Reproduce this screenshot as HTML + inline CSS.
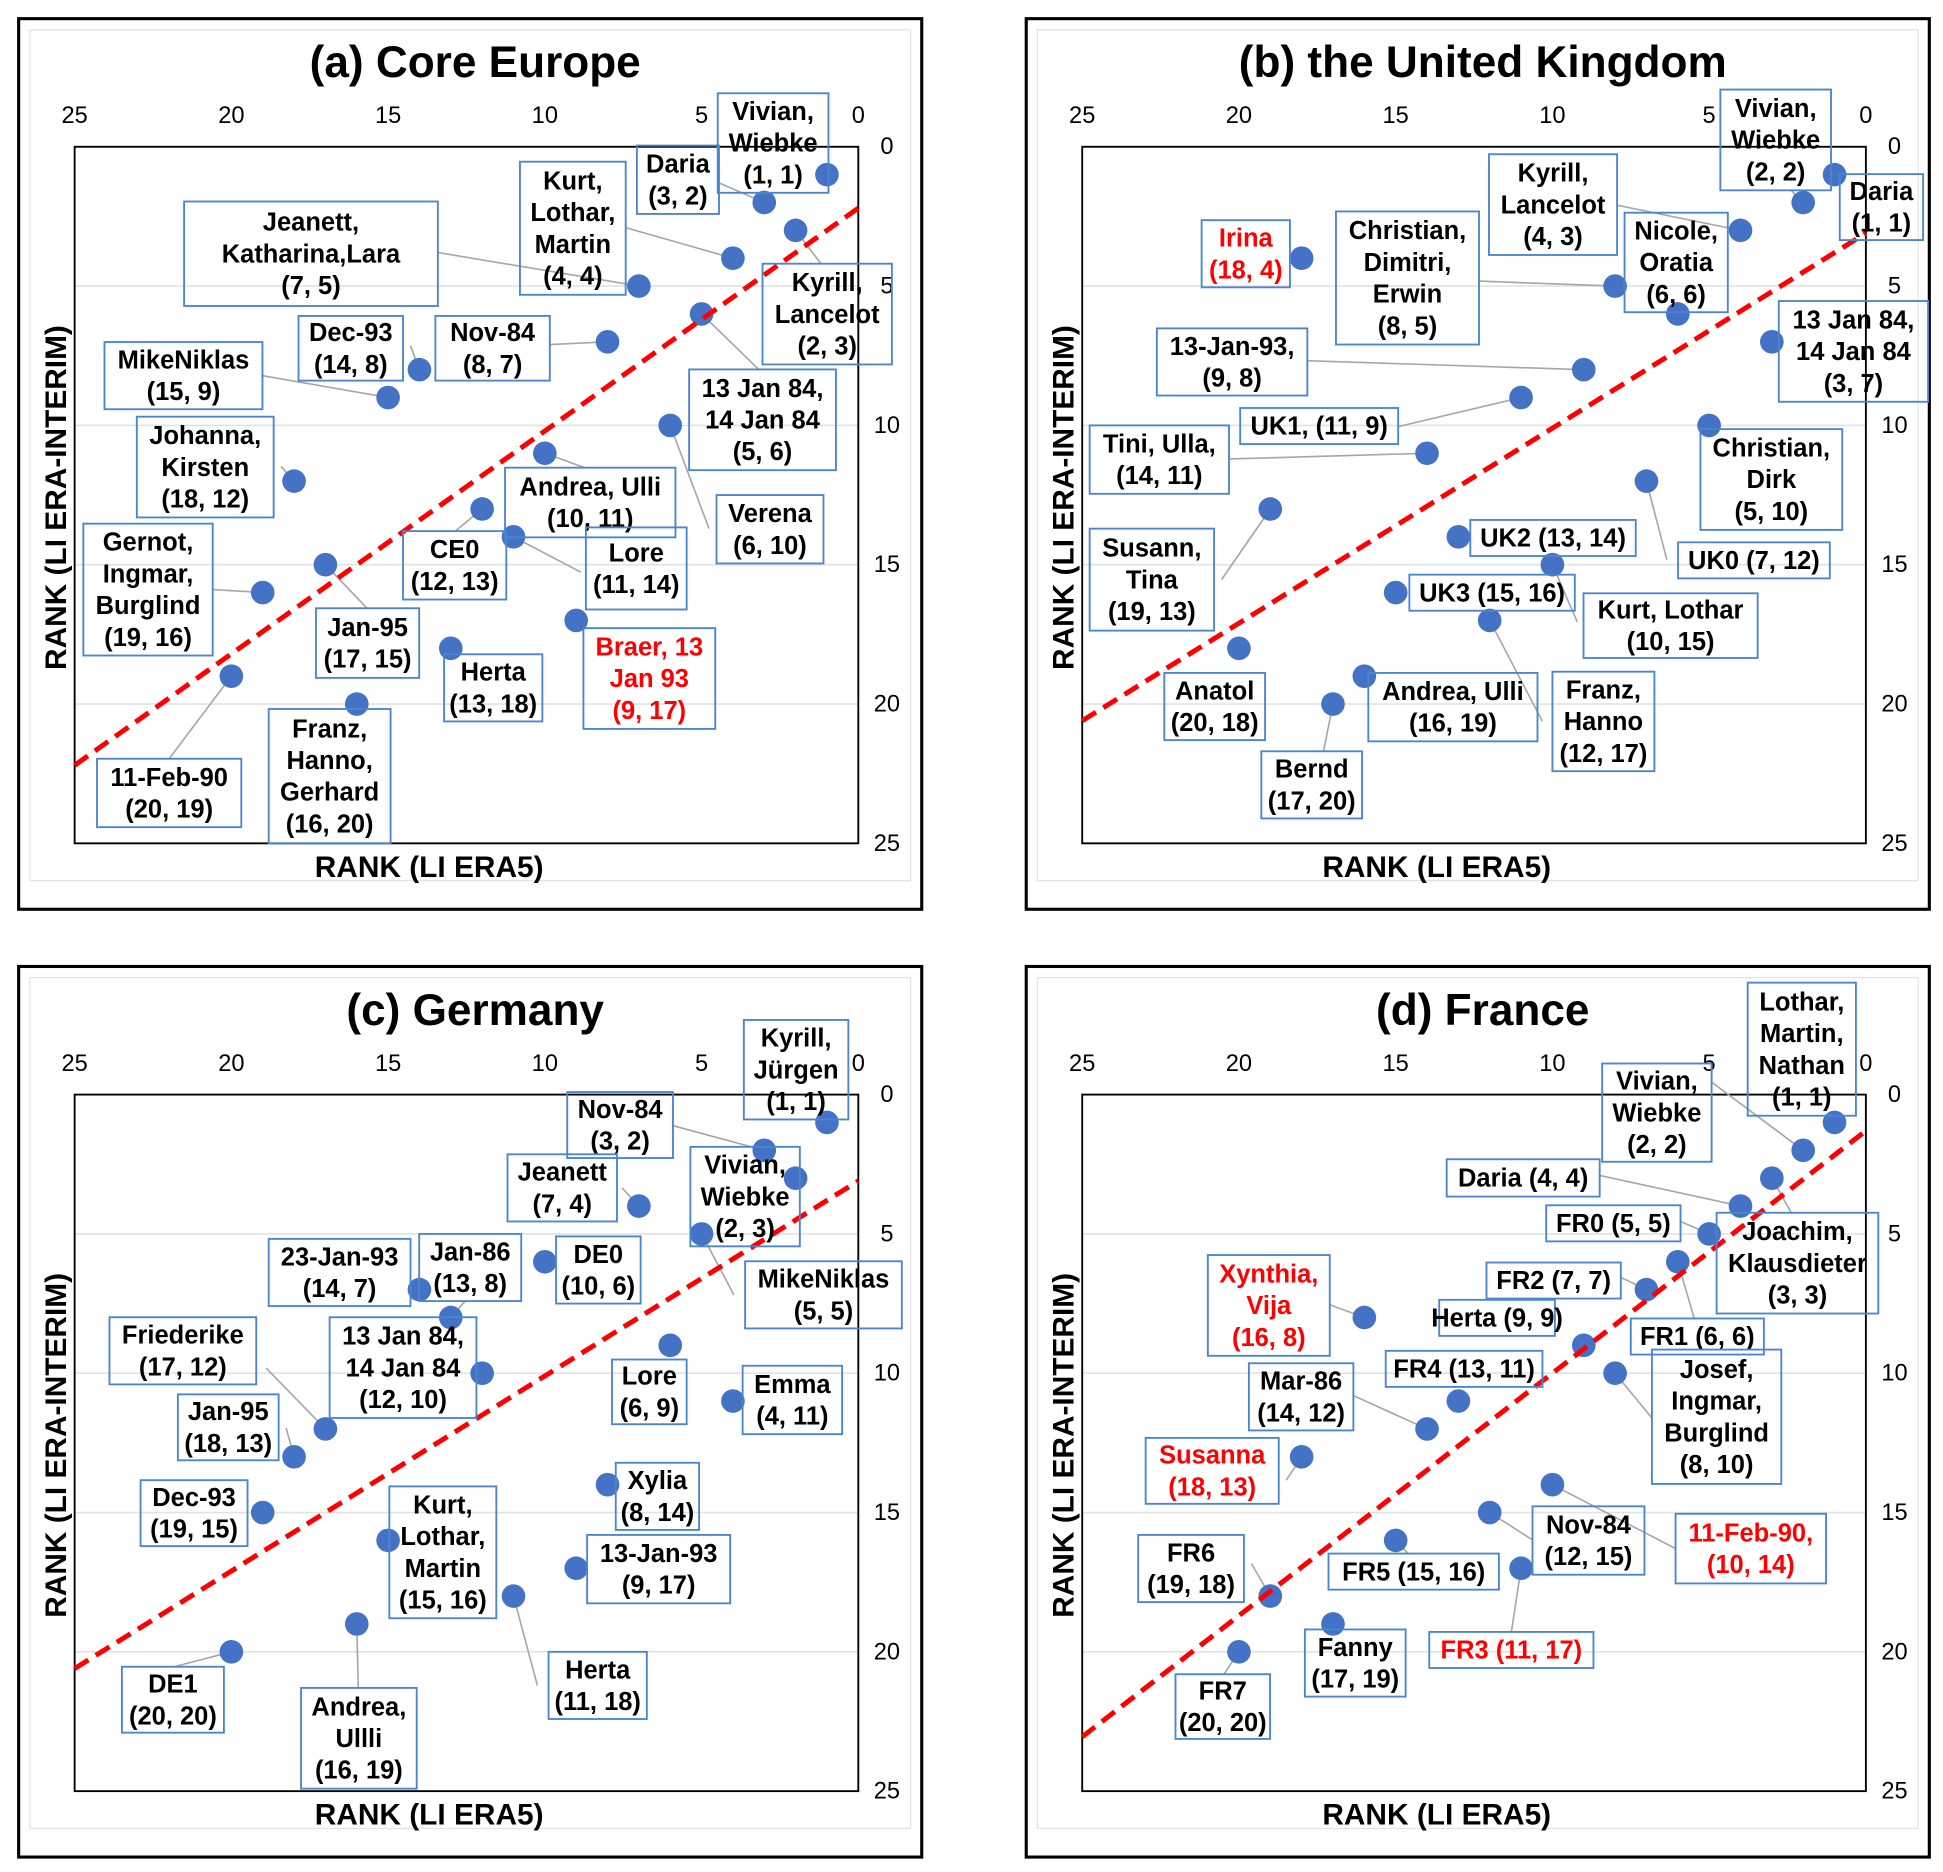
<!DOCTYPE html>
<html><head><meta charset="utf-8">
<style>
html,body{margin:0;padding:0;background:#fff;}
svg{display:block;}
text{font-family:"Liberation Sans",Arial,sans-serif;font-weight:bold;}
</style></head>
<body>
<svg id="fig" width="1943" height="1872" viewBox="0 0 1562 1505" preserveAspectRatio="none" xmlns="http://www.w3.org/2000/svg"></svg>
<script>
// ---- data (per panel): names, ERA5 rank, ERA-Interim rank ----
const aNames = ["Vivian, Wiebke","Daria","Kurt, Lothar, Martin","Jeanett, Katharina,Lara","Kyrill, Lancelot","13 Jan 84, 14 Jan 84","Dec-93","Nov-84","MikeNiklas","Johanna, Kirsten","Verena","Andrea, Ulli","CE0","Lore","Gernot, Ingmar, Burglind","Jan-95","Braer, 13 Jan 93","Herta","Franz, Hanno, Gerhard","11-Feb-90"];
const aEra5 =    [1,3,4,7,2,5,14,8,15,18,6,10,12,11,19,17,9,13,16,20];
const aInterim = [1,2,4,5,3,6,8,7,9,12,10,11,13,14,16,15,17,18,20,19];
const bNames = ["Vivian, Wiebke","Daria","Kyrill, Lancelot","Irina","Christian, Dimitri, Erwin","Nicole, Oratia","13 Jan 84, 14 Jan 84","13-Jan-93","UK1","Tini, Ulla","Christian, Dirk","Susann, Tina","UK2","UK0","UK3","Kurt, Lothar","Anatol","Franz, Hanno","Andrea, Ulli","Bernd"];
const bEra5 =    [2,1,4,18,8,6,3,9,11,14,5,19,13,7,15,10,20,12,16,17];
const bInterim = [2,1,3,4,5,6,7,8,9,11,10,13,14,12,16,15,18,17,19,20];
const cNames = ["Kyrill, Jürgen","Nov-84","Vivian, Wiebke","Jeanett","23-Jan-93","Jan-86","DE0","MikeNiklas","Friederike","13 Jan 84, 14 Jan 84","Lore","Emma","Jan-95","Dec-93","Xylia","Kurt, Lothar, Martin","13-Jan-93","Herta","DE1","Andrea, Ullli"];
const cEra5 =    [1,3,2,7,14,13,10,5,17,12,6,4,18,19,8,15,9,11,20,16];
const cInterim = [1,2,3,4,7,8,6,5,12,10,9,11,13,15,14,16,17,18,20,19];
const dNames = ["Lothar, Martin, Nathan","Vivian, Wiebke","Daria","Joachim, Klausdieter","FR0","FR2","FR1","Xynthia, Vija","Herta","FR4","Josef, Ingmar, Burglind","Mar-86","Susanna","Nov-84","11-Feb-90","FR6","FR5","FR3","Fanny","FR7"];
const dEra5 =    [1,2,4,3,5,7,6,16,9,13,8,14,18,12,10,19,15,11,17,20];
const dInterim = [1,2,4,3,5,7,6,8,9,11,10,12,13,15,14,18,16,17,19,20];
// fitted reference line: interim = intercept + slope*era5
const lineIntercept = [2.2, 3.1, 3.1, 1.3];
const lineSlope     = [0.8, 0.7, 0.7, 0.87];
const tickValues = [0,5,10,15,20,25];
const titles = ["(a) Core Europe","(b) the United Kingdom","(c) Germany","(d) France"];

// ---- layout (label boxes: x1,y1,x2,y2, text lines, red?, leader anchor) ----
const layoutA = [
 [577,75,666,155,["Vivian,","Wiebke","(1, 1)"],0,null],
 [512,117,578,172,["Daria","(3, 2)"],0,[578,147]],
 [418,130,503,237,["Kurt,","Lothar,","Martin","(4, 4)"],0,[503,183]],
 [148,162,352,246,["Jeanett,","Katharina,Lara","(7, 5)"],0,[352,203]],
 [613,212,717,293,["Kyrill,","Lancelot","(2, 3)"],0,[660,212]],
 [554,297,672,378,["13 Jan 84,","14 Jan 84","(5, 6)"],0,[610,297]],
 [240,254,324,306,["Dec-93","(14, 8)"],0,[330,278]],
 [350,254,442,306,["Nov-84","(8, 7)"],0,[442,277]],
 [84,275,211,329,["MikeNiklas","(15, 9)"],0,[211,302]],
 [110,335,220,416,["Johanna,","Kirsten","(18, 12)"],0,[226,375]],
 [576,398,662,453,["Verena","(6, 10)"],0,[570,425]],
 [406,376,543,432,["Andrea, Ulli","(10, 11)"],0,[470,376]],
 [324,427,407,482,["CE0","(12, 13)"],0,[366,427]],
 [471,424,552,490,["Lore","(11, 14)"],0,[467,460]],
 [67,421,171,527,["Gernot,","Ingmar,","Burglind","(19, 16)"],0,[171,474]],
 [254,489,337,545,["Jan-95","(17, 15)"],0,[295,489]],
 [469,505,575,586,["Braer, 13","Jan 93","(9, 17)"],1,null],
 [357,526,436,580,["Herta","(13, 18)"],0,null],
 [216,570,314,678,["Franz,","Hanno,","Gerhard","(16, 20)"],0,null],
 [78,610,194,665,["11-Feb-90","(20, 19)"],0,[136,610]]
];
const layoutB = [
 [1383,72,1472,153,["Vivian,","Wiebke","(2, 2)"],0,[1440,153]],
 [1479,140,1546,193,["Daria","(1, 1)"],0,null],
 [1197,124,1300,205,["Kyrill,","Lancelot","(4, 3)"],0,[1300,165]],
 [966,177,1037,231,["Irina","(18, 4)"],1,null],
 [1074,170,1189,277,["Christian,","Dimitri,","Erwin","(8, 5)"],0,[1189,226]],
 [1306,171,1389,251,["Nicole,","Oratia","(6, 6)"],0,null],
 [1430,242,1550,323,["13 Jan 84,","14 Jan 84","(3, 7)"],0,null],
 [930,264,1051,318,["13-Jan-93,","(9, 8)"],0,[1051,290]],
 [997,328,1124,357,["UK1, (11, 9)"],0,[1124,343]],
 [876,342,988,397,["Tini, Ulla,","(14, 11)"],0,[988,369]],
 [1367,345,1481,426,["Christian,","Dirk","(5, 10)"],0,null],
 [876,425,976,507,["Susann,","Tina","(19, 13)"],0,[982,466]],
 [1182,418,1315,447,["UK2 (13, 14)"],0,null],
 [1349,436,1471,465,["UK0 (7, 12)"],0,[1340,450]],
 [1133,462,1266,491,["UK3 (15, 16)"],0,null],
 [1273,477,1413,529,["Kurt, Lothar","(10, 15)"],0,[1268,500]],
 [936,541,1017,595,["Anatol","(20, 18)"],0,null],
 [1248,540,1330,620,["Franz,","Hanno","(12, 17)"],0,[1240,580]],
 [1100,541,1236,596,["Andrea, Ulli","(16, 19)"],0,null],
 [1014,604,1095,658,["Bernd","(17, 20)"],0,[1064,604]]
];
const layoutC = [
 [598,820,682,900,["Kyrill,","Jürgen","(1, 1)"],0,null],
 [456,878,541,931,["Nov-84","(3, 2)"],0,[541,905]],
 [555,922,643,1002,["Vivian,","Wiebke","(2, 3)"],0,null],
 [408,928,496,982,["Jeanett","(7, 4)"],0,[500,955]],
 [216,996,330,1050,["23-Jan-93","(14, 7)"],0,null],
 [337,992,419,1046,["Jan-86","(13, 8)"],0,[374,1046]],
 [447,994,515,1048,["DE0","(10, 6)"],0,null],
 [599,1014,725,1068,["MikeNiklas","(5, 5)"],0,[590,1041]],
 [88,1059,206,1113,["Friederike","(17, 12)"],0,[214,1100]],
 [265,1059,383,1140,["13 Jan 84,","14 Jan 84","(12, 10)"],0,null],
 [492,1093,552,1145,["Lore","(6, 9)"],0,null],
 [597,1098,677,1153,["Emma","(4, 11)"],0,null],
 [143,1121,224,1174,["Jan-95","(18, 13)"],0,[230,1148]],
 [113,1190,199,1243,["Dec-93","(19, 15)"],0,null],
 [495,1176,562,1230,["Xylia","(8, 14)"],0,null],
 [313,1195,399,1301,["Kurt,","Lothar,","Martin","(15, 16)"],0,null],
 [472,1234,587,1289,["13-Jan-93","(9, 17)"],0,null],
 [441,1328,520,1382,["Herta","(11, 18)"],0,[432,1355]],
 [98,1340,180,1393,["DE1","(20, 20)"],0,[140,1340]],
 [242,1357,335,1438,["Andrea,","Ullli","(16, 19)"],0,[288,1357]]
];
const layoutD = [
 [1405,790,1492,897,["Lothar,","Martin,","Nathan","(1, 1)"],0,null],
 [1288,855,1376,934,["Vivian,","Wiebke","(2, 2)"],0,[1376,870]],
 [1163,932,1286,962,["Daria (4, 4)"],0,[1286,945]],
 [1380,975,1510,1056,["Joachim,","Klausdieter","(3, 3)"],0,[1440,975]],
 [1243,969,1351,998,["FR0 (5, 5)"],0,[1351,982]],
 [1195,1015,1303,1044,["FR2 (7, 7)"],0,[1303,1027]],
 [1311,1060,1418,1089,["FR1 (6, 6)"],0,[1362,1060]],
 [971,1009,1069,1090,["Xynthia,","Vija","(16, 8)"],1,[1069,1049]],
 [1157,1045,1250,1074,["Herta (9, 9)"],0,null],
 [1114,1086,1240,1115,["FR4 (13, 11)"],0,null],
 [1328,1085,1432,1193,["Josef,","Ingmar,","Burglind","(8, 10)"],0,[1328,1140]],
 [1004,1096,1088,1150,["Mar-86","(14, 12)"],0,[1088,1122]],
 [921,1156,1028,1209,["Susanna","(18, 13)"],1,[1034,1190]],
 [1232,1211,1322,1266,["Nov-84","(12, 15)"],0,[1232,1238]],
 [1347,1217,1468,1273,["11-Feb-90,","(10, 14)"],1,[1347,1245]],
 [915,1234,1000,1288,["FR6","(19, 18)"],0,[1006,1257]],
 [1068,1249,1205,1278,["FR5 (15, 16)"],0,[1132,1249]],
 [1149,1312,1281,1341,["FR3 (11, 17)"],1,[1215,1312]],
 [1049,1310,1130,1364,["Fanny","(17, 19)"],0,null],
 [945,1346,1021,1398,["FR7","(20, 20)"],0,[984,1346]]
];

const panels = [
 {ox:0,oy:0,names:aNames,x:aEra5,y:aInterim,lay:layoutA},
 {ox:810,oy:0,names:bNames,x:bEra5,y:bInterim,lay:layoutB},
 {ox:0,oy:762,names:cNames,x:cEra5,y:cInterim,lay:layoutC},
 {ox:810,oy:762,names:dNames,x:dEra5,y:dInterim,lay:layoutD}
];
const NS="http://www.w3.org/2000/svg";
const svg=document.getElementById('fig');
function mk(tag,attrs,parent){const e=document.createElementNS(NS,tag);for(const k in attrs)e.setAttribute(k,attrs[k]);(parent||svg).appendChild(e);return e;}

panels.forEach((P,pi)=>{
  const g=mk('g',{});
  
  
  const X0=60+P.ox, X1=690+P.ox, Y0=118+P.oy, Y1=678+P.oy;
  const px=r=>X1-(X1-X0)*r/25;
  const py=r=>Y0+(Y1-Y0)*r/25;
  const outer=mk('rect',{x:15+P.ox,y:15+P.oy,width:726,height:716,fill:'none',stroke:'#000','stroke-width':2.5},g);
  
  
  mk('rect',{x:24+P.ox,y:24+P.oy,width:708,height:684,fill:'none',stroke:'#e3e3e3','stroke-width':1},g);
  tickValues.forEach(t=>{
    if(t>0&&t<25){const gl=mk('line',{x1:X0,x2:X1,y1:py(t),y2:py(t),stroke:'#e2e2e2','stroke-width':1.3},g);
      
      }
    const tx=mk('text',{x:px(t),y:99+P.oy,'text-anchor':'middle','font-size':19,style:'font-weight:normal'},g);
    tx.textContent=t;
    
    
    const ty=mk('text',{x:713+P.ox,y:py(t)+6,'text-anchor':'middle','font-size':19,style:'font-weight:normal'},g);
    ty.textContent=t;
    
    
  });
  const pa=mk('rect',{x:X0,y:Y0,width:X1-X0,height:Y1-Y0,fill:'none',stroke:'#000','stroke-width':1.5},g);
  
  
  const ti=mk('text',{x:382+P.ox,y:62+P.oy,'text-anchor':'middle','font-size':35.5},g);
  ti.textContent=titles[pi];
  
  
  const xt=mk('text',{x:345+P.ox,y:705+P.oy,'text-anchor':'middle','font-size':24},g);
  xt.textContent='RANK (LI ERA5)';
  
  
  const yt=mk('text',{x:0,y:0,'text-anchor':'middle','font-size':24,transform:`translate(${53+P.ox},${400+P.oy}) rotate(-90)`},g);
  yt.textContent='RANK (LI ERA-INTERIM)';
  
  
  P.lay.forEach((L,i)=>{
    if(!L[6])return;
    const ln=mk('line',{x1:L[6][0],y1:L[6][1],x2:px(P.x[i]),y2:py(P.y[i]),stroke:'#a6a6a6','stroke-width':1.3},g);
    
    
  });
  P.x.forEach((v,i)=>{
    const c=mk('circle',{cx:px(v),cy:py(P.y[i]),r:9.5,fill:'#4472c4'},g);
    
    
  });
  const rl=mk('line',{x1:px(25),y1:py(lineIntercept[pi]+lineSlope[pi]*25),x2:px(0),y2:py(lineIntercept[pi]),stroke:'#ff0000','stroke-width':4,'stroke-dasharray':'13,7'},g);
  
  
  P.lay.forEach((L,i)=>{
    const lg=mk('g',{},g);
    
    
    mk('rect',{x:L[0],y:L[1],width:L[2]-L[0],height:L[3]-L[1],fill:'none',stroke:'#4a86d0','stroke-width':1.5},lg);
    const n=L[4].length, lh=25.5, cx=(L[0]+L[2])/2, cy=(L[1]+L[3])/2;
    L[4].forEach((s,k)=>{
      const t=mk('text',{x:cx,y:cy+(k-(n-1)/2)*lh+7,'text-anchor':'middle','font-size':20.5,fill:L[5]?'#ff0000':'#000'},lg);
      t.textContent=s;
    });
  });
});
</script>
</body></html>
